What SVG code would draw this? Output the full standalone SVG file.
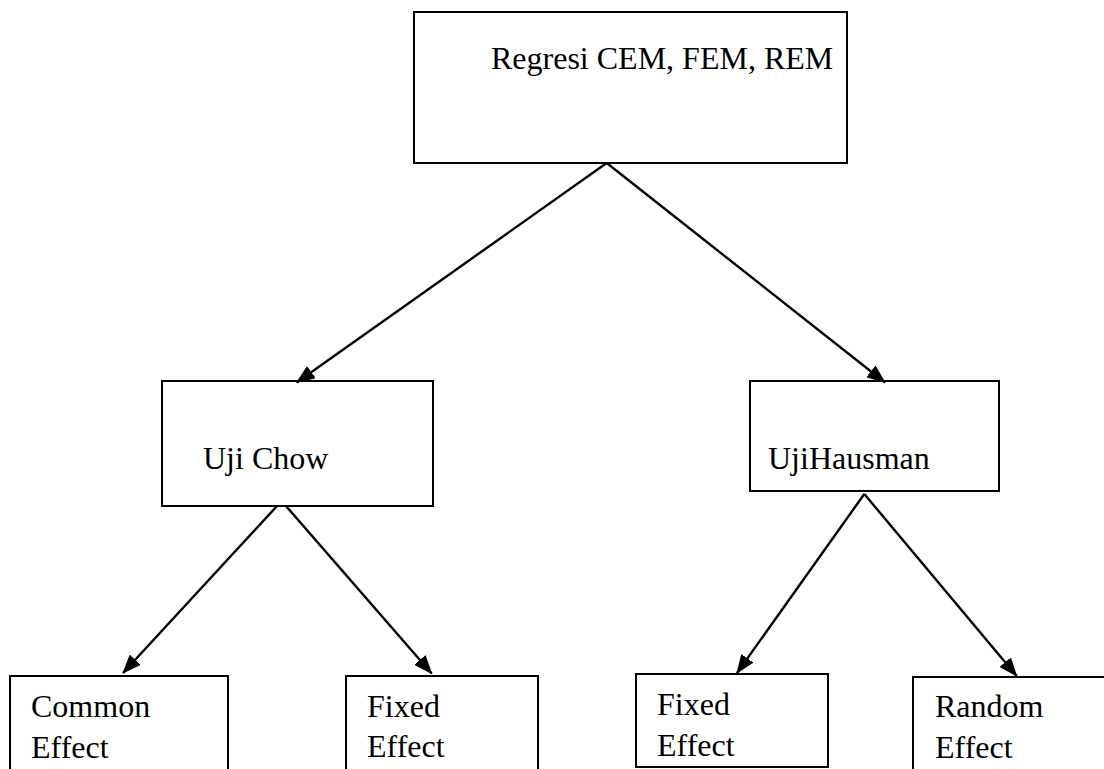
<svg xmlns="http://www.w3.org/2000/svg" width="1104" height="769" viewBox="0 0 1104 769">
  <style>
    .box { fill: #ffffff; stroke: #000000; stroke-width: 2; }
    .lbl { font-family: "Liberation Serif", "Times New Roman", serif; font-size: 32px; fill: #000000; }
    .conn { stroke: #000000; stroke-width: 2.4; fill: none; marker-end: url(#arrow); }
  </style>
  <defs>
    <marker id="arrow" viewBox="0 0 19 15" refX="18" refY="7.5" markerWidth="19" markerHeight="15" markerUnits="userSpaceOnUse" orient="auto">
      <path d="M0,0 L19,7.5 L0,15 z" fill="#000000"/>
    </marker>
  </defs>
  <rect width="1104" height="769" fill="#ffffff"/>

  <g id="node-regresi">
    <rect class="box" x="414" y="12" width="433" height="151"/>
    <text class="lbl" x="491" y="69">Regresi CEM, FEM, REM</text>
  </g>
  <g id="node-uji-chow">
    <rect class="box" x="162" y="381" width="271" height="125"/>
    <text class="lbl" x="203" y="469">Uji Chow</text>
  </g>
  <g id="node-uji-hausman">
    <rect class="box" x="750" y="381" width="249" height="110"/>
    <text class="lbl" x="768" y="469">UjiHausman</text>
  </g>
  <g id="node-common-effect">
    <rect class="box" x="10" y="676" width="218" height="110"/>
    <text class="lbl" x="31" y="717">Common</text>
    <text class="lbl" x="31" y="758">Effect</text>
  </g>
  <g id="node-fixed-effect-1">
    <rect class="box" x="346" y="676" width="192" height="110"/>
    <text class="lbl" x="367" y="717">Fixed</text>
    <text class="lbl" x="367" y="757">Effect</text>
  </g>
  <g id="node-fixed-effect-2">
    <rect class="box" x="636" y="674" width="192" height="93"/>
    <text class="lbl" x="657" y="715">Fixed</text>
    <text class="lbl" x="657" y="756">Effect</text>
  </g>
  <g id="node-random-effect">
    <rect class="box" x="913" y="677" width="220" height="110"/>
    <text class="lbl" x="935" y="717">Random</text>
    <text class="lbl" x="935" y="758">Effect</text>
  </g>

  <g id="connectors">
    <line class="conn" x1="606.7" y1="163" x2="296.7" y2="382.5"/>
    <line class="conn" x1="606.7" y1="163" x2="885" y2="382.5"/>
    <line class="conn" x1="277" y1="506" x2="123" y2="673"/>
    <line class="conn" x1="286" y1="506" x2="431.7" y2="673.5"/>
    <line class="conn" x1="864.3" y1="494" x2="737" y2="673"/>
    <line class="conn" x1="864.3" y1="494" x2="1016.7" y2="676"/>
  </g>
</svg>
